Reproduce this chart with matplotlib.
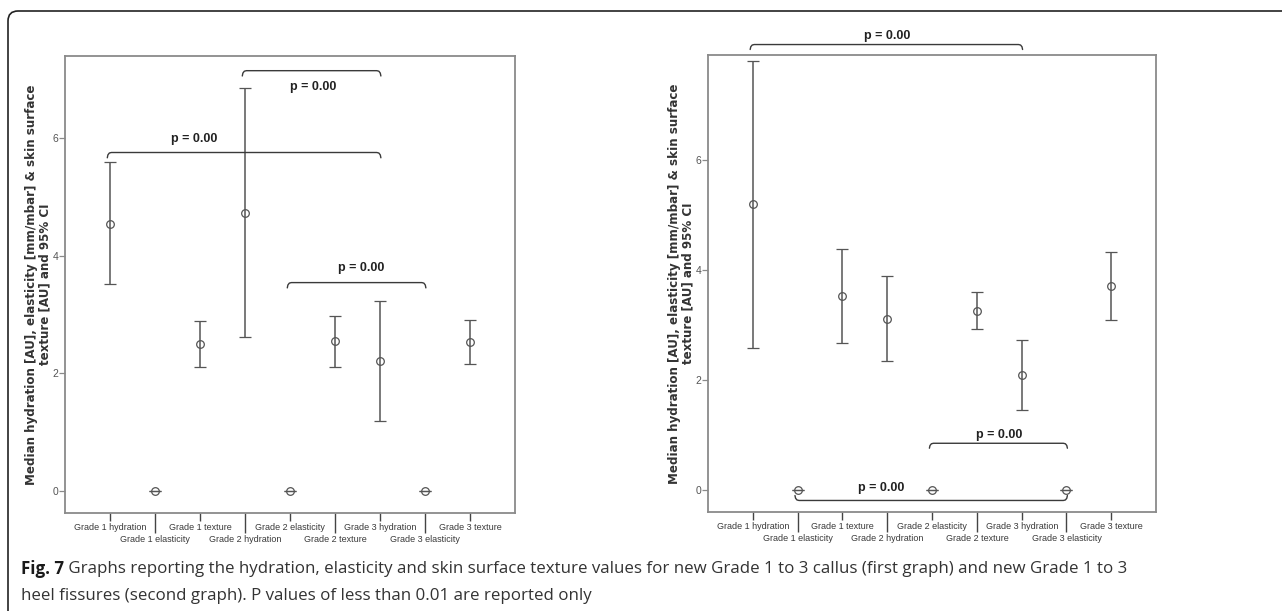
import matplotlib
matplotlib.use("Agg")
import matplotlib.pyplot as plt
import numpy as np
from matplotlib.patches import FancyBboxPatch

categories = ['Grade 1 hydration', 'Grade 1 elasticity', 'Grade 1 texture',
              'Grade 2 hydration', 'Grade 2 elasticity', 'Grade 2 texture',
              'Grade 3 hydration', 'Grade 3 elasticity', 'Grade 3 texture']

# callus (first graph)
callus_mid = [4.54, 0, 2.49, 4.73, 0, 2.54, 2.20, 0, 2.53]
callus_low = [3.51, 0, 2.11, 2.62, 0, 2.11, 1.19, 0, 2.16]
callus_high = [5.59, 0, 2.89, 6.84, 0, 2.98, 3.22, 0, 2.90]

# heel fissures (second graph)
fissure_mid = [5.20, 0, 3.53, 3.11, 0, 3.26, 2.09, 0, 3.71]
fissure_low = [2.59, 0, 2.68, 2.35, 0, 2.93, 1.45, 0, 3.10]
fissure_high = [7.80, 0, 4.39, 3.89, 0, 3.60, 2.73, 0, 4.33]

# significance brackets: (from, to, level, text x, text y, hooks down?)
callus_brackets = [(0, 6, 5.75, 1.86, 5.98, True),
                   (3, 6, 7.14, 4.52, 6.87, True),
                   (4, 7, 3.54, 5.59, 3.79, True)]
fissure_brackets = [(0, 6, 8.10, 3.00, 8.25, True),
                    (4, 7, 0.85, 5.49, 1.00, True),
                    (1, 7, -0.19, 2.87, 0.04, False)]
p_text = 'p = 0.00'

ylabel = 'Median hydration [AU], elasticity [mm/mbar] & skin surface\ntexture [AU] and 95% CI'
caption_bold = 'Fig. 7'
caption_1 = (' Graphs reporting the hydration, elasticity and skin surface texture values '
             'for new Grade 1 to 3 callus (first graph) and new Grade 1 to 3')
caption_2 = 'heel fissures (second graph). P values of less than 0.01 are reported only'

narrow = ['Liberation Sans Narrow', 'Liberation Sans', 'DejaVu Sans']
plt.rcParams['font.family'] = ['Liberation Sans', 'DejaVu Sans']

bar_col = '#555555'
spine_col = '#8a8a8a'


def bracket(ax, x0, x1, y, down, hw=0.09, hh=0.09):
    s = -1 if down else 1
    xs = [x0, x0 + hw * 0.15, x0 + hw * 0.5, x0 + hw, x1 - hw, x1 - hw * 0.5, x1 - hw * 0.15, x1]
    ys = [y + s * hh, y + s * hh * 0.45, y + s * hh * 0.1, y, y, y + s * hh * 0.1, y + s * hh * 0.45, y + s * hh]
    ax.plot(xs, ys, color='#3a3a3a', lw=1.0, clip_on=False, solid_capstyle='round')


def panel(ax, mid, low, high, brackets, ylim):
    x = np.arange(len(categories))
    mid = np.array(mid)
    err = [mid - np.array(low), np.array(high) - mid]
    ax.errorbar(x, mid, yerr=err, fmt='o', mfc='none', mec=bar_col, ms=5.5, mew=0.9,
                ecolor=bar_col, elinewidth=1.1, capsize=4.5, capthick=1.1)
    ax.set_xlim(-1, 9)
    ax.set_ylim(*ylim)
    ax.set_yticks([0, 2, 4, 6])
    ax.tick_params(axis='y', length=4, width=0.9, color=spine_col, labelsize=7.5,
                   labelcolor='#555555', pad=1)
    ax.set_xticks(x[::2])
    ax.set_xticklabels(categories[::2], fontsize=6.5, color='#3a3a3a', family=narrow)
    ax.set_xticks(x[1::2], minor=True)
    ax.set_xticklabels(categories[1::2], minor=True, fontsize=6.5, color='#3a3a3a', family=narrow)
    ax.tick_params(axis='x', which='major', length=6, width=1.0, color='#444444', pad=1.5)
    ax.tick_params(axis='x', which='minor', length=14.5, width=1.0, color='#444444', pad=1)
    for sp in ax.spines.values():
        sp.set_color(spine_col)
        sp.set_linewidth(1.3)
    ax.set_ylabel(ylabel, fontsize=8.6, fontweight='bold', color='#333333', linespacing=1.0,
                  family=['DejaVu Sans'])
    ax.yaxis.set_label_coords(-0.031, 0.5)
    for x0, x1, lvl, tx, ty, down in brackets:
        bracket(ax, x0 - 0.06, x1 + 0.02, lvl, down)
        ax.text(tx, ty, p_text, ha='center', va='center', fontsize=9, fontweight='bold',
                color='#222222', family=narrow, clip_on=False)


fig = plt.figure(figsize=(12.82, 6.11), dpi=100)
ax1 = fig.add_axes([0.0507, 0.1604, 0.351, 0.748])
ax2 = fig.add_axes([0.5523, 0.162, 0.3495, 0.748])
panel(ax1, callus_mid, callus_low, callus_high, callus_brackets, (-0.374, 7.39))
panel(ax2, fissure_mid, fissure_low, fissure_high, fissure_brackets, (-0.40, 7.91))

# outer frame with rounded top-left corner (open to the right and bottom)
frame = FancyBboxPatch((8, -60), 1400, 611 - 11 + 60, boxstyle='round,pad=0,rounding_size=10',
                       transform=None, fill=False, ec='#222222', lw=1.2)
fig.patches.append(frame)

cap_font = ['Open Sans', 'DejaVu Sans']
t = fig.text(21 / 1282, 1 - 569 / 611, caption_bold, fontsize=12.2, fontweight='bold',
             color='#1a1a1a', family=cap_font, va='center')
fig.canvas.draw()
bb = t.get_window_extent()
fig.text(bb.x1 / 1282, 1 - 569 / 611, caption_1, fontsize=12.2, color='#333333',
         family=cap_font, va='center')
fig.text(21 / 1282, 1 - 596 / 611, caption_2, fontsize=12.2, color='#333333',
         family=cap_font, va='center')

fig.savefig('out.png', dpi=100)
